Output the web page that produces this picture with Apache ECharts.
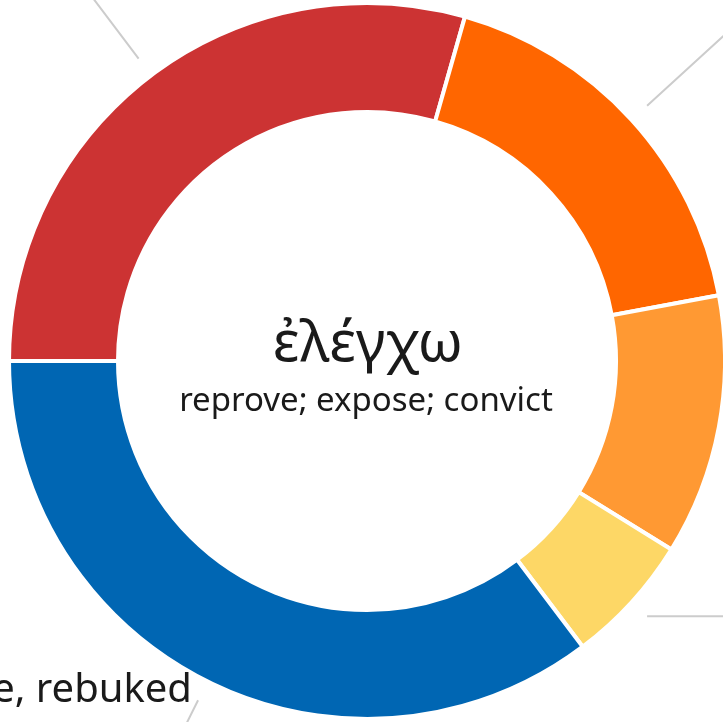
<!DOCTYPE html>
<html>
<head>
<meta charset="utf-8">
<script src="https://cdn.jsdelivr.net/npm/echarts@6/dist/echarts.min.js"></script>
<style>
  html, body { margin: 0; padding: 0; background: #ffffff; }
  #chart { width: 723px; height: 722px; }
</style>
</head>
<body>
<div id="chart"></div>
<script>
// ---- data ----
const categories = ['convict, convicted', 'expose, exposed', 'reprove, reproved', 'show fault', 'rebuke, rebuked'];
const counts = [5, 3, 2, 1, 6];
const sliceColors = ['#cc3333', '#ff6600', '#ff9933', '#fdd766', '#0066b3'];
const headword = 'ἐλέγχω';
const gloss = 'reprove; expose; convict';

// label-line lengths per slice [length, length2]
const lineLengths = [[120, 40], [120, 40], [40, 40], [0, 120], [40, 40]];
const visibleLabelIndex = 4;

const FONT = '"Noto Sans", "Open Sans", "DejaVu Sans", sans-serif';

const mainData = categories.map((name, i) => ({
  name: name,
  value: counts[i],
  itemStyle: { color: sliceColors[i] },
  label: { show: i === visibleLabelIndex },
  labelLine: { show: false, length: 10, length2: 6 }
}));

const guideData = categories.map((name, i) => ({
  name: name,
  value: counts[i],
  label: { show: true, formatter: i === visibleLabelIndex ? ' ' : '{b}' },
  labelLine: { show: true, length: lineLengths[i][0], length2: lineLengths[i][1] }
}));

const chart = echarts.init(document.getElementById('chart'), null, { renderer: 'canvas' });
chart.setOption({
  backgroundColor: '#ffffff',
  animation: false,
  graphic: [
    { type: 'text', x: 368, y: 345, style: { text: headword, font: '57px ' + FONT, fill: '#1a1a1a', align: 'center', verticalAlign: 'middle' } },
    { type: 'text', x: 366, y: 402, style: { text: gloss, font: '33px ' + FONT, fill: '#1a1a1a', align: 'center', verticalAlign: 'middle' } }
  ],
  series: [
    {
      type: 'pie',
      center: [367, 361],
      radius: [249, 358],
      startAngle: 180,
      clockwise: true,
      avoidLabelOverlap: false,
      silent: true,
      itemStyle: { borderColor: '#ffffff', borderWidth: 4 },
      label: { position: 'outside', fontFamily: FONT, fontSize: 40, color: '#1a1a1a', formatter: '{b}' },
      emphasis: { disabled: true },
      data: mainData
    },
    {
      type: 'pie',
      center: [367, 361],
      radius: [378, 379],
      startAngle: 180,
      clockwise: true,
      avoidLabelOverlap: false,
      silent: true,
      itemStyle: { color: 'rgba(0,0,0,0)', borderWidth: 0 },
      label: { position: 'outside', fontFamily: FONT, fontSize: 40, color: '#1a1a1a' },
      labelLine: { lineStyle: { color: '#cccccc', width: 2 } },
      emphasis: { disabled: true },
      data: guideData
    }
  ]
});
</script>
</body>
</html>
